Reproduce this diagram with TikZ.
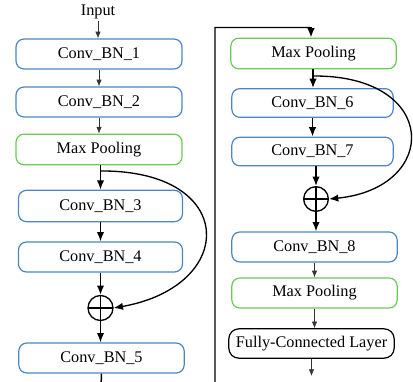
\documentclass[tikz,border=0pt]{standalone}
\usepackage{fontspec}
\setmainfont{Liberation Serif}
\usetikzlibrary{arrows.meta}
\definecolor{bluebox}{RGB}{74,134,197}
\definecolor{greenbox}{RGB}{102,204,85}
\begin{document}
\begin{tikzpicture}[x=0.75pt,y=-0.75pt,
 box/.style={draw, rounded corners=6pt, line width=0.9pt, minimum height=22.5pt, inner sep=0pt, font=\fontsize{12.2}{14}\selectfont},
 convbox/.style={box, draw=bluebox},
 poolbox/.style={box, draw=greenbox},
 fcbox/.style={box, draw=black, rounded corners=7.5pt},
 thinarrow/.style={-{Latex[length=5pt,width=4pt]}, line width=0.5pt, draw=black!80},
 boldarrow/.style={-{Latex[length=7pt,width=5.5pt]}, line width=1.1pt},
 plusnode/.style={circle, draw, line width=1pt, minimum size=18.75pt, inner sep=0pt,
   path picture={\draw[line width=1pt] (path picture bounding box.north) -- (path picture bounding box.south) (path picture bounding box.west) -- (path picture bounding box.east);}}
]
\useasboundingbox (0,0) rectangle (413,381);
\clip (0,0) rectangle (413,381);
% left column
\node[font=\fontsize{12.2}{14}\selectfont, inner sep=1pt] (in) at (98,12) {Input};
\node[convbox, minimum width=124.5pt] (c1) at (99,54) {Conv\_BN\_1};
\node[convbox, minimum width=124.5pt] (c2) at (99,102) {Conv\_BN\_2};
\node[poolbox, minimum width=124.5pt, minimum height=23pt] (mp1) at (99,149.5) {Max Pooling};
\node[convbox, minimum width=123pt, minimum height=23.5pt] (c3) at (100.5,206) {Conv\_BN\_3};
\node[convbox, minimum width=123pt] (c4) at (100.5,257) {Conv\_BN\_4};
\node[plusnode] (p1) at (100.5,308) {};
\node[convbox, minimum width=124pt] (c5) at (101.5,358) {Conv\_BN\_5};
% right column
\node[poolbox, minimum width=124pt, minimum height=23pt] (mp2) at (313.5,53.5) {Max Pooling};
\node[convbox, minimum width=121pt, minimum height=21.5pt] (c6) at (312.5,103) {Conv\_BN\_6};
\node[convbox, minimum width=121pt, minimum height=21.5pt] (c7) at (312.5,151.5) {Conv\_BN\_7};
\node[plusnode, minimum size=18.5pt] (p2) at (316,199) {};
\node[convbox, minimum width=124pt] (c8) at (314.5,247) {Conv\_BN\_8};
\node[poolbox, minimum width=124pt] (mp3) at (314.5,293) {Max Pooling};
\node[fcbox, minimum width=124pt, minimum height=22pt] (fc) at (311.5,343.5) {Fully-Connected Layer};
% helper coordinates
\coordinate (s1) at (100.5,171);
\coordinate (s2) at (313,76);
\coordinate (lowL) at (100.5,400);
\coordinate (lowR) at (215,400);
\coordinate (topR) at (215,27.5);
\coordinate (topM) at (311,27.5);
\coordinate (out) at (311.5,376);
% thin arrows
\draw[thinarrow] (in.south) -- (in.south |- c1.north);
\draw[thinarrow] (c1.south) -- (c1.south |- c2.north);
\draw[thinarrow] (c2.south) -- (c2.south |- mp1.north);
\draw[thinarrow] (c8.south) -- (c8.south |- mp3.north);
\draw[thinarrow] (mp3.south) -- (mp3.south |- fc.north);
\draw[thinarrow] (fc.south) -- (out);
% bold arrows
\draw[boldarrow] (s1 |- mp1.south) -- (s1 |- c3.north);
\draw[boldarrow] (c3.south) -- (c3.south |- c4.north);
\draw[boldarrow] (c4.south) -- (p1.north);
\draw[boldarrow] (p1.south) -- (p1.south |- c5.north);
\draw[line width=1.1pt] (c5.south) -- (lowL) -- (lowR) -- (topR) -- (topM);
\draw[boldarrow] (topM) -- (topM |- mp2.north);
\draw[boldarrow] (s2 |- mp2.south) -- (s2 |- c6.north);
\draw[boldarrow] (c6.south) -- (c6.south |- c7.north);
\draw[boldarrow] (p2.north |- c7.south) -- (p2.north);
\draw[boldarrow] (p2.south) -- (p2.south |- c8.north);
% skip connections
\draw[boldarrow, line width=1pt] (s1) .. controls (238,170) and (238,286) .. (p1.east);
\draw[boldarrow, line width=1pt] (s2) .. controls (440,75) and (440,188) .. (p2.east);
\end{tikzpicture}
\end{document}
